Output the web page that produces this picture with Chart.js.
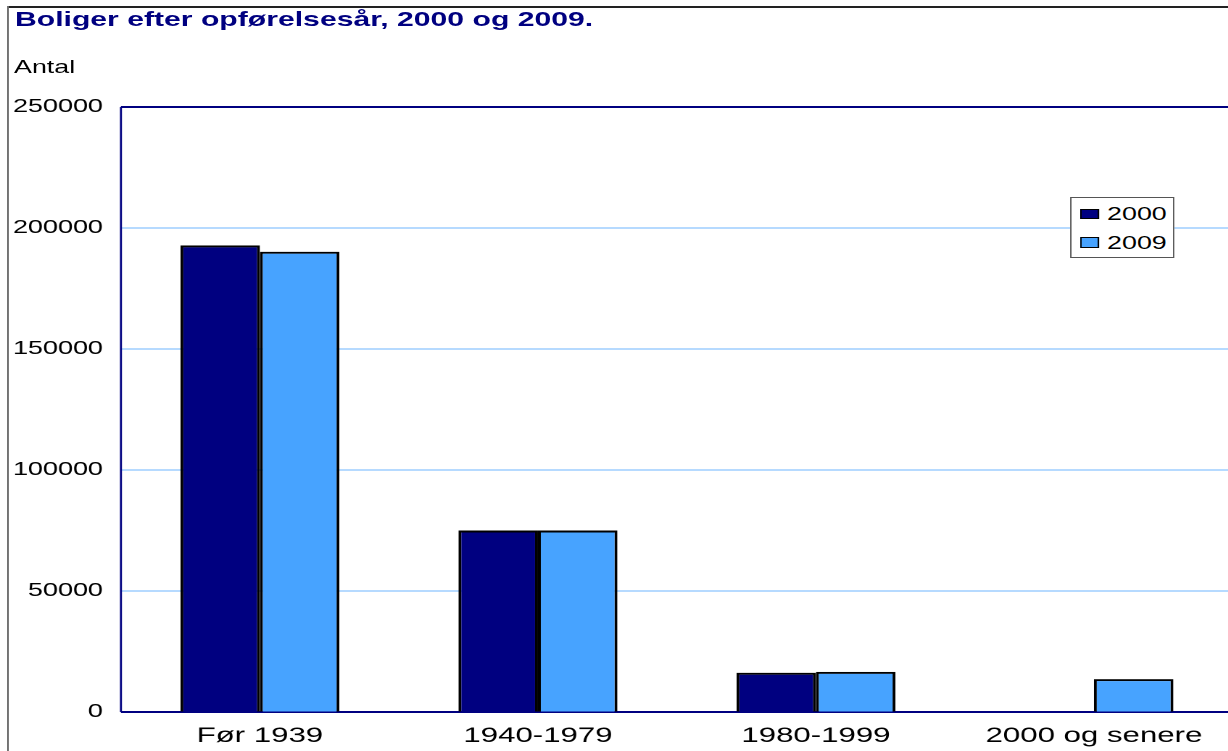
<!DOCTYPE html>
<html>
<head>
<meta charset="utf-8">
<script src="https://cdn.jsdelivr.net/npm/chart.js@4/dist/chart.umd.min.js"></script>
<style>
  body { margin:0; overflow:hidden; background:#fff; font-family:"Liberation Sans", Arial, sans-serif; }
  /* the reference is horizontally stretched, so draw narrow and stretch */
  #wrap { position:absolute; left:0; top:0; width:856px; height:751px; transform:scaleX(1.45); transform-origin:0 0; }
  #frameTop { position:absolute; left:5.5px; top:6px; width:900px; height:2px; background:#222; }
  #frameLeft { position:absolute; left:4.8px; top:6px; width:1.4px; height:760px; background:#444; }
  #title { position:absolute; left:10.3px; top:9px; font-size:20.8px; line-height:20px; font-weight:bold; color:#000080; white-space:nowrap; }
  #unit { position:absolute; left:9.7px; top:58px; font-size:18.5px; line-height:18px; color:#000; }
  #chart { position:absolute; left:0; top:0; }
  #legend { position:absolute; left:737.5px; top:197px; width:70px; height:59px; border:1px solid #555; background:#fff; }
  .item { position:absolute; left:6px; font-size:18.5px; line-height:18px; color:#000; white-space:nowrap; }
  .sw { display:inline-block; width:11px; height:8.5px; border:1px solid #000; vertical-align:middle; margin-right:6px; position:relative; top:-1px; }
</style>
</head>
<body>
<div id="wrap">
  <div id="frameTop"></div>
  <div id="frameLeft"></div>
  <div id="title">Boliger efter opførelsesår, 2000 og 2009.</div>
  <div id="unit">Antal</div>
  <canvas id="chart" width="856" height="751"></canvas>
  <div id="legend"></div>
</div>
<script>
const categories = ['Før 1939', '1940-1979', '1980-1999', '2000 og senere'];
const seriesNames = ['2000', '2009'];
const values2000 = [192800, 75000, 16200, null];
const values2009 = [190200, 75000, 16600, 13600];
const seriesColors = ['#000080', '#47a3ff'];
const yTicks = [0, 50000, 100000, 150000, 200000, 250000];

const fontFam = '"Liberation Sans", Arial, sans-serif';

// plot frame (top, left, bottom) drawn under the bars
const framePlugin = {
    id:'frame',
    beforeDatasetsDraw(chart){
        const a = chart.chartArea, ctx = chart.ctx;
        ctx.save();
        ctx.strokeStyle = '#000080';
        ctx.lineWidth = 2;
        ctx.beginPath();
        ctx.moveTo(a.left, a.top); ctx.lineTo(a.right + 10, a.top);
        ctx.moveTo(a.left, a.bottom); ctx.lineTo(a.right + 10, a.bottom);
        ctx.stroke();
        ctx.lineWidth = 1.4;
        ctx.beginPath();
        ctx.moveTo(a.left, a.top); ctx.lineTo(a.left, a.bottom);
        ctx.stroke();
        ctx.restore();
    }
};

const ctx = document.getElementById('chart').getContext('2d');
const chart = new Chart(ctx, {
    type:'bar',
    data:{
        labels: categories,
        datasets:[
            { label: seriesNames[0], data: values2000, backgroundColor: seriesColors[0], borderColor:'#000', borderWidth:2 },
            { label: seriesNames[1], data: values2009, backgroundColor: seriesColors[1], borderColor:'#000', borderWidth:2 }
        ]
    },
    options:{
        responsive:false,
        devicePixelRatio:2,
        animation:false,
        layout:{ padding:{ left:0, right:5.7, top:107, bottom:0 } },
        datasets:{ bar:{ categoryPercentage:0.572, barPercentage:1.0 } },
        plugins:{ legend:{ display:false }, title:{ display:false }, tooltip:{ enabled:false } },
        scales:{
            x:{
                grid:{ display:false, drawTicks:false },
                border:{ display:false },
                ticks:{ color:'#000', font:{ family:fontFam, size:21.5 }, padding:11, maxRotation:0, autoSkip:false },
                afterFit(scale){ scale.height = 39; }
            },
            y:{
                min:0, max:250000,
                grid:{ color:'#6cb5ff', lineWidth:1, drawTicks:false },
                border:{ display:false },
                ticks:{ color:'#000', font:{ family:fontFam, size:18.6 }, padding:12.4, callback:v=>String(v) },
                afterBuildTicks(scale){ scale.ticks = yTicks.map(v=>({ value:v })); },
                afterFit(scale){ scale.width = 83.4; }
            }
        }
    },
    plugins:[framePlugin]
});

// legend box
const legend = document.getElementById('legend');
seriesNames.forEach((name, i)=>{
    const d = document.createElement('div');
    d.className = 'item';
    d.style.top = (7 + i * 28.5) + 'px';
    d.innerHTML = `<span class="sw" style="background:${seriesColors[i]}"></span>${name}`;
    legend.appendChild(d);
});
</script>
</body>
</html>
